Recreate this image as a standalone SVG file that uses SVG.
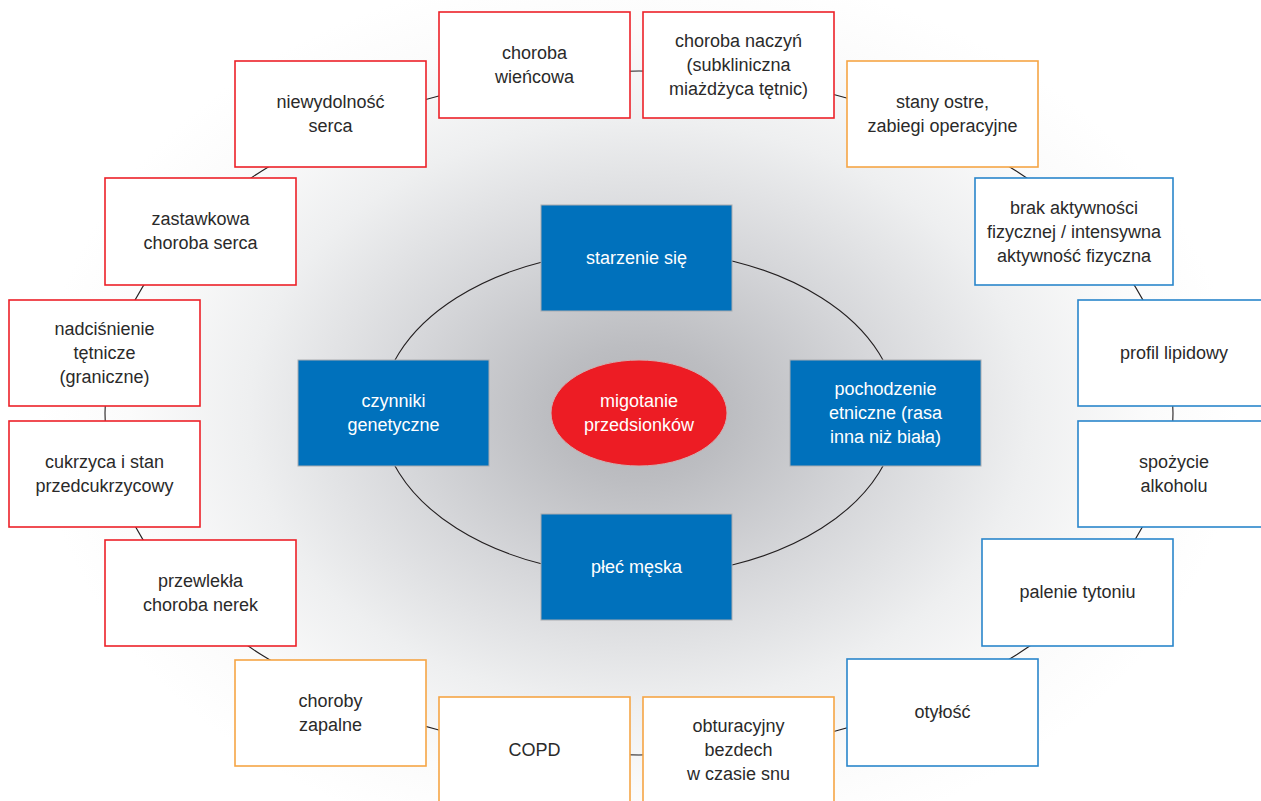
<svg xmlns="http://www.w3.org/2000/svg" width="1261" height="801" viewBox="0 0 1261 801">
<defs>
<radialGradient id="bg" gradientUnits="userSpaceOnUse" cx="639" cy="413" r="600" gradientTransform="translate(639 413) scale(1 0.75) translate(-639 -413)">
<stop offset="0" stop-color="#b1b2b6"/>
<stop offset="0.15" stop-color="#bcbdc1"/>
<stop offset="0.4" stop-color="#d6d7da"/>
<stop offset="0.65" stop-color="#eeeff0"/>
<stop offset="0.85" stop-color="#fbfbfb"/>
<stop offset="1" stop-color="#ffffff"/>
</radialGradient>
<style>
.box{fill:#ffffff;stroke-width:1.6}
.red{stroke:#ed2128}
.org{stroke:#f6a545}
.blu{stroke:#2a86cb}
.inner{fill:#0071bc;stroke:#a9acb0;stroke-width:1}
.t{font-family:"Liberation Sans",Arial,sans-serif;font-size:18px;fill:#2a2a2a;text-anchor:middle}
.w{font-family:"Liberation Sans",Arial,sans-serif;font-size:18px;fill:#ffffff;text-anchor:middle}
.conn{fill:none;stroke:#231f20;stroke-width:1.1}
</style>
</defs>
<rect x="0" y="0" width="1261" height="801" fill="#ffffff"/>
<rect x="0" y="0" width="1261" height="801" fill="url(#bg)"/>
<g id="connectors">
<ellipse class="conn" cx="639" cy="413" rx="534" ry="342"/>
<ellipse class="conn" cx="639" cy="413" rx="258" ry="163"/>
</g>
<g id="n1"><rect class="box red" x="235" y="61" width="191" height="106"/><text class="t" x="330.5" y="108">niewydolność</text><text class="t" x="330.5" y="132">serca</text></g>
<g id="n2"><rect class="box red" x="439" y="12" width="191" height="106"/><text class="t" x="534.5" y="59">choroba</text><text class="t" x="534.5" y="83">wieńcowa</text></g>
<g id="n3"><rect class="box red" x="643" y="12" width="191" height="106"/><text class="t" x="738.5" y="47">choroba naczyń</text><text class="t" x="738.5" y="71">(subkliniczna</text><text class="t" x="738.5" y="95">miażdżyca tętnic)</text></g>
<g id="n4"><rect class="box org" x="847" y="61" width="191" height="106"/><text class="t" x="942.5" y="108">stany ostre,</text><text class="t" x="942.5" y="132">zabiegi operacyjne</text></g>
<g id="n5"><rect class="box blu" x="975" y="178" width="198" height="107"/><text class="t" x="1074" y="214">brak aktywności</text><text class="t" x="1074" y="238">fizycznej / intensywna</text><text class="t" x="1074" y="262">aktywność fizyczna</text></g>
<g id="n6"><rect class="box blu" x="1078" y="300" width="192" height="106"/><text class="t" x="1174" y="359">profil lipidowy</text></g>
<g id="n7"><rect class="box blu" x="1078" y="421" width="192" height="106"/><text class="t" x="1174" y="468">spożycie</text><text class="t" x="1174" y="492">alkoholu</text></g>
<g id="n8"><rect class="box blu" x="982" y="539" width="191" height="107"/><text class="t" x="1077.5" y="598">palenie tytoniu</text></g>
<g id="n9"><rect class="box blu" x="847" y="659" width="191" height="107"/><text class="t" x="942.5" y="718">otyłość</text></g>
<g id="n10"><rect class="box org" x="643" y="697" width="191" height="106"/><text class="t" x="738.5" y="732">obturacyjny</text><text class="t" x="738.5" y="756">bezdech</text><text class="t" x="738.5" y="780">w czasie snu</text></g>
<g id="n11"><rect class="box org" x="439" y="697" width="191" height="106"/><text class="t" x="534.5" y="756">COPD</text></g>
<g id="n12"><rect class="box org" x="235" y="660" width="191" height="106"/><text class="t" x="330.5" y="707">choroby</text><text class="t" x="330.5" y="731">zapalne</text></g>
<g id="n13"><rect class="box red" x="105" y="540" width="191" height="106"/><text class="t" x="200.5" y="587">przewlekła</text><text class="t" x="200.5" y="611">choroba nerek</text></g>
<g id="n14"><rect class="box red" x="9" y="421" width="191" height="106"/><text class="t" x="104.5" y="468">cukrzyca i stan</text><text class="t" x="104.5" y="492">przedcukrzycowy</text></g>
<g id="n15"><rect class="box red" x="9" y="300" width="191" height="106"/><text class="t" x="104.5" y="335">nadciśnienie</text><text class="t" x="104.5" y="359">tętnicze</text><text class="t" x="104.5" y="383">(graniczne)</text></g>
<g id="n16"><rect class="box red" x="105" y="178" width="191" height="107"/><text class="t" x="200.5" y="225">zastawkowa</text><text class="t" x="200.5" y="249">choroba serca</text></g>
<g id="c1"><rect class="inner" x="541" y="205" width="191" height="106"/><text class="w" x="636.5" y="264">starzenie się</text></g>
<g id="c2"><rect class="inner" x="298" y="360" width="191" height="106"/><text class="w" x="393.5" y="407">czynniki</text><text class="w" x="393.5" y="431">genetyczne</text></g>
<g id="c3"><rect class="inner" x="790" y="360" width="191" height="106"/><text class="w" x="885.5" y="395">pochodzenie</text><text class="w" x="885.5" y="419">etniczne (rasa</text><text class="w" x="885.5" y="443">inna niż biała)</text></g>
<g id="c4"><rect class="inner" x="541" y="514" width="191" height="106"/><text class="w" x="636.5" y="573">płeć męska</text></g>
<g id="center"><ellipse cx="639" cy="413" rx="88" ry="53" fill="#ed1c24" stroke="#d0b0b2" stroke-width="1"/><text class="w" x="639" y="407">migotanie</text><text class="w" x="639" y="431">przedsionków</text></g>
</svg>
